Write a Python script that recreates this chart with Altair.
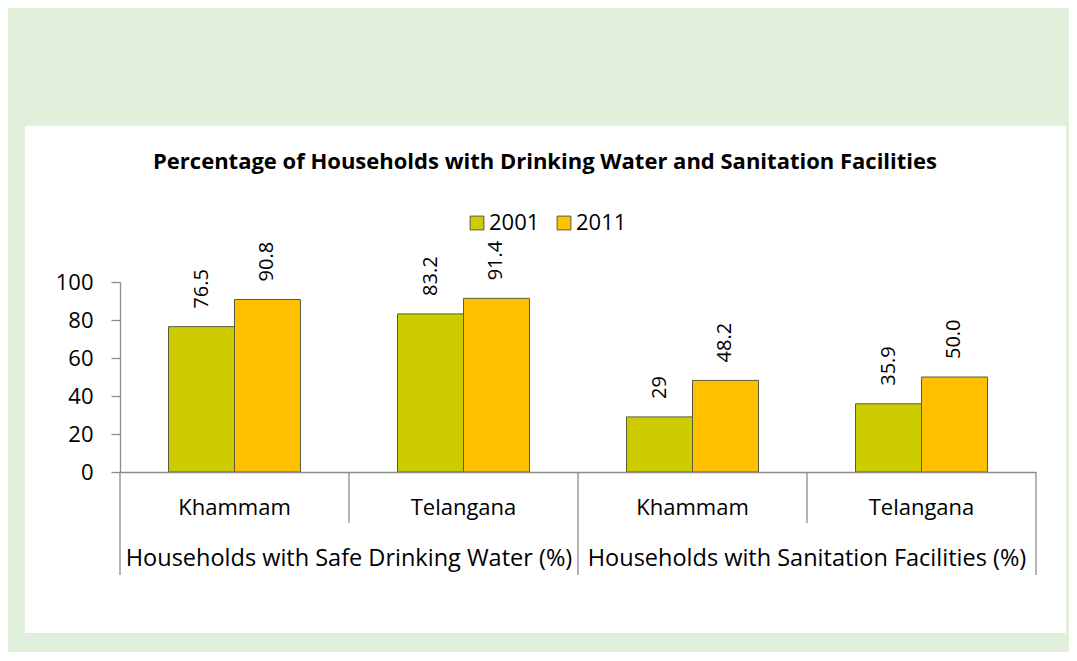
import altair as alt
import pandas as pd

# ---- data ----
groups = ["Households with Safe Drinking Water (%)", "Households with Safe Drinking Water (%)",
          "Households with Sanitation Facilities (%)", "Households with Sanitation Facilities (%)"]
regions = ["Khammam", "Telangana", "Khammam", "Telangana"]
keys = ["W-Khammam", "W-Telangana", "S-Khammam", "S-Telangana"]
years = ["2001", "2011"]
values_2001 = [76.5, 83.2, 29.0, 35.9]
values_2011 = [90.8, 91.4, 48.2, 50.0]
labels_2001 = ["76.5", "83.2", "29", "35.9"]
labels_2011 = ["90.8", "91.4", "48.2", "50.0"]
y_ticks = [0, 20, 40, 60, 80, 100]
title_text = "Percentage of Households with Drinking Water and Sanitation Facilities"

rows = []
for i, k in enumerate(keys):
    rows.append({"key": k, "region": regions[i], "group": groups[i], "year": "2001",
                 "value": values_2001[i], "label": labels_2001[i]})
    rows.append({"key": k, "region": regions[i], "group": groups[i], "year": "2011",
                 "value": values_2011[i], "label": labels_2011[i]})
df = pd.DataFrame(rows)

FONT = "Open Sans"
W, H = 916, 190
GRAY = "#8c8c8c"

region_map = "{" + ",".join(f"'{k}':'{r}'" for k, r in zip(keys, regions)) + "}"

xscale = alt.Scale(domain=keys, paddingInner=0, paddingOuter=0)
yscale = alt.Scale(domain=[0, 100], nice=False)
offset_scale = alt.Scale(domain=years, paddingInner=0, paddingOuter=0.735)
color_scale = alt.Scale(domain=years, range=["#CCCC00", "#FFC000"])

x_axis = alt.Axis(title=None, labelExpr=f"{region_map}[datum.value]", labelAngle=0,
                  ticks=False, labelPadding=25, labelFont=FONT, labelFontSize=22,
                  labelColor="black", domainColor=GRAY, domainWidth=1.3, zindex=1)
y_axis = alt.Axis(title=None, values=y_ticks, grid=False, tickSize=9,
                  tickColor=GRAY, tickWidth=1.3, domainColor=GRAY, domainWidth=1.3,
                  labelFont=FONT, labelFontSize=22, labelColor="black", labelPadding=18,
                  labelOverlap=False, labelFlush=False, zindex=1)

# white panel behind the chart
panel = alt.Chart(alt.Data(values=[{}])).mark_rect(color="white").encode(
    x=alt.value(-95), x2=alt.value(946), y=alt.value(-156), y2=alt.value(351)
)

title = alt.Chart(alt.Data(values=[{"t": title_text}])).mark_text(
    font=FONT, fontSize=22, fontWeight="bold", color="black", baseline="middle", align="center"
).encode(x=alt.value(425), y=alt.value(-120), text="t:N")

bars = alt.Chart(df).mark_bar(stroke="#5c5a3c", strokeWidth=1).encode(
    x=alt.X("key:N", scale=xscale, axis=x_axis),
    xOffset=alt.XOffset("year:N", scale=offset_scale),
    y=alt.Y("value:Q", scale=yscale, axis=y_axis),
    color=alt.Color("year:N", scale=color_scale,
                    legend=alt.Legend(title=None, orient="none", legendX=346, legendY=-70,
                                      direction="horizontal", symbolType="square", symbolSize=190,
                                      symbolStrokeColor="#5c5a3c", symbolStrokeWidth=1,
                                      labelFont=FONT, labelFontSize=22, labelColor="black",
                                      labelOffset=1, columnPadding=13)),
)

values_text = alt.Chart(df).mark_text(
    font=FONT, fontSize=20, angle=270, align="left", baseline="middle", dx=18, color="black"
).encode(
    x=alt.X("key:N", scale=xscale, axis=x_axis),
    xOffset=alt.XOffset("year:N", scale=offset_scale),
    y=alt.Y("value:Q", scale=yscale, axis=y_axis),
    text="label:N",
)

minor_sep = alt.Chart(alt.Data(values=[{"key": "W-Telangana"}, {"key": "S-Telangana"}])).mark_rule(
    color=GRAY, strokeWidth=1.3
).encode(x=alt.X("key:N", scale=xscale, bandPosition=0, axis=x_axis), y=alt.value(H), y2=alt.value(H + 51))

major_start = alt.Chart(alt.Data(values=[{"key": "W-Khammam"}, {"key": "S-Khammam"}])).mark_rule(
    color=GRAY, strokeWidth=1.3
).encode(x=alt.X("key:N", scale=xscale, bandPosition=0, axis=x_axis), y=alt.value(H), y2=alt.value(H + 103))

major_end = alt.Chart(alt.Data(values=[{"key": "S-Telangana"}])).mark_rule(
    color=GRAY, strokeWidth=1.3
).encode(x=alt.X("key:N", scale=xscale, bandPosition=1, axis=x_axis), y=alt.value(H), y2=alt.value(H + 103))

group_df = pd.DataFrame({"key": [keys[1], keys[3]], "group": [groups[0], groups[2]]})
group_text = alt.Chart(group_df).mark_text(
    font=FONT, fontSize=23.5, color="black", baseline="alphabetic", align="center"
).encode(x=alt.X("key:N", scale=xscale, bandPosition=0, axis=x_axis), y=alt.value(284), text="group:N")

chart = alt.layer(
    panel, title, bars, values_text, minor_sep, major_start, major_end, group_text
).properties(
    width=W, height=H,
    background="#E2EFDA",
    padding={"left": 112, "top": 274, "right": 33, "bottom": 180},
    autosize=alt.AutoSizeParams(type="none"),
).configure_view(stroke=None)

chart.save("out.html", embed_options={"renderer": "svg", "actions": False})
